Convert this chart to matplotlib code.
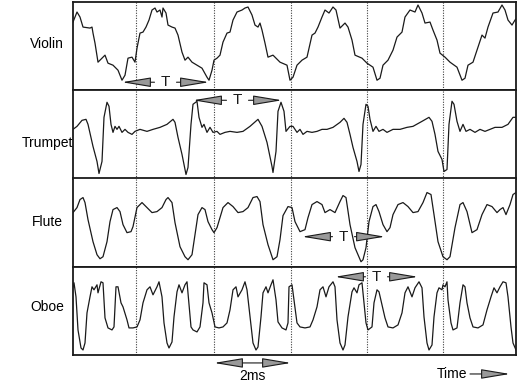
import numpy as np
import matplotlib
matplotlib.use("Agg")
import matplotlib.pyplot as plt

plt.rcParams["font.family"] = ["Liberation Sans", "DejaVu Sans"]

# traces: (sample index, amplitude), sampled at 38.5 samples per ms
SAMPLES_PER_MS = 38.5
N_SAMPLES = 443
AMP_MAX = 88

violin = [(0, 68), (4, 78), (7, 73), (10, 63), (17, 62), (19, 63), (20, 57), (22, 47), (25, 28),
          (29, 32), (32, 35), (35, 27), (40, 25), (45, 20), (49, 10), (52, 15), (55, 32), (59, 33),
          (62, 28), (64, 42), (67, 57), (70, 58), (73, 63), (76, 70), (79, 80), (82, 82), (84, 78),
          (87, 80), (89, 73), (90, 82), (93, 77), (95, 65), (99, 63), (102, 62), (105, 55), (109, 38),
          (112, 30), (115, 33), (119, 28), (124, 25), (129, 22), (134, 13), (136, 10), (139, 20),
          (141, 30), (144, 32), (147, 35), (150, 48), (154, 57), (157, 58), (160, 70), (164, 78),
          (169, 80), (172, 82), (175, 83), (179, 75), (182, 65), (185, 63), (187, 67), (189, 60),
          (192, 47), (195, 33), (200, 35), (207, 28), (214, 25), (217, 10), (220, 13), (224, 25),
          (229, 30), (234, 33), (239, 55), (242, 57), (245, 63), (249, 73), (252, 80), (256, 77),
          (260, 83), (263, 80), (267, 62), (272, 67), (275, 63), (279, 50), (282, 35), (289, 32),
          (294, 27), (300, 23), (304, 10), (307, 12), (310, 25), (315, 30), (320, 40), (324, 53),
          (329, 58), (332, 73), (337, 80), (342, 78), (345, 85), (349, 77), (352, 67), (357, 68),
          (360, 60), (364, 50), (367, 37), (372, 33), (377, 28), (384, 23), (389, 10), (392, 12),
          (395, 25), (400, 28), (405, 43), (409, 55), (412, 52), (415, 63), (420, 77), (425, 78),
          (429, 85), (432, 80), (435, 70), (439, 65), (442, 70), (443, 71)]

trumpet = [(0, 49), (4, 52), (9, 58), (13, 59), (15, 54), (20, 32), (24, 17), (26, 5), (29, 17),
           (31, 61), (34, 76), (36, 72), (38, 54), (40, 46), (42, 52), (44, 49), (46, 52), (49, 46),
           (52, 49), (55, 46), (59, 44), (62, 47), (67, 49), (74, 47), (80, 49), (87, 51), (94, 54),
           (100, 59), (102, 56), (105, 41), (109, 24), (113, 4), (115, 11), (118, 54), (120, 74),
           (124, 77), (126, 61), (129, 51), (131, 54), (134, 46), (137, 51), (140, 46), (144, 47),
           (147, 44), (152, 46), (157, 47), (164, 46), (170, 47), (177, 52), (185, 59), (189, 52),
           (194, 36), (199, 12), (200, 6), (203, 27), (205, 67), (208, 76), (211, 67), (213, 47),
           (217, 52), (220, 52), (224, 46), (227, 49), (230, 44), (234, 47), (239, 46), (244, 47),
           (249, 49), (254, 49), (260, 51), (267, 56), (271, 60), (274, 56), (277, 44), (280, 31),
           (284, 17), (286, 7), (288, 14), (290, 54), (293, 74), (295, 72), (297, 59), (300, 47),
           (303, 52), (306, 47), (310, 49), (314, 46), (320, 49), (327, 49), (334, 51), (340, 52),
           (349, 57), (356, 61), (359, 57), (362, 44), (365, 27), (369, 19), (371, 7), (374, 9),
           (376, 54), (379, 77), (381, 74), (384, 57), (387, 47), (390, 54), (393, 47), (397, 49),
           (402, 46), (407, 49), (412, 47), (417, 49), (422, 51), (429, 51), (435, 54), (440, 61),
           (443, 61)]

flute = [(0, 54), (4, 59), (7, 67), (10, 69), (12, 64), (15, 47), (20, 25), (24, 12), (27, 8),
         (30, 10), (34, 25), (37, 45), (40, 57), (44, 59), (47, 55), (50, 42), (54, 34), (58, 35),
         (60, 40), (64, 59), (69, 64), (74, 59), (79, 54), (84, 55), (89, 59), (93, 67), (95, 69),
         (99, 64), (102, 44), (107, 20), (112, 10), (115, 7), (119, 12), (122, 32), (125, 52),
         (129, 59), (132, 57), (135, 45), (139, 37), (141, 34), (144, 39), (147, 49), (150, 59),
         (155, 64), (160, 60), (165, 54), (170, 55), (175, 59), (180, 69), (184, 70), (187, 65),
         (190, 42), (195, 22), (200, 7), (204, 10), (207, 27), (210, 51), (215, 60), (219, 59),
         (222, 45), (227, 35), (232, 37), (235, 49), (239, 62), (244, 65), (249, 62), (252, 54),
         (257, 57), (262, 54), (267, 65), (270, 71), (273, 69), (277, 42), (282, 19), (288, 5),
         (290, 7), (293, 19), (296, 45), (300, 60), (303, 62), (306, 55), (310, 42), (314, 35),
         (317, 39), (320, 52), (325, 62), (330, 64), (335, 60), (340, 54), (345, 55), (350, 64),
         (354, 74), (358, 72), (361, 52), (365, 25), (370, 10), (374, 7), (377, 10), (382, 39),
         (387, 62), (390, 64), (394, 55), (399, 34), (404, 37), (409, 52), (414, 62), (419, 60),
         (424, 54), (427, 57), (430, 59), (433, 52), (437, 62), (440, 72), (443, 74)]

oboe = [(0, 68), (1, 72), (3, 58), (5, 25), (8, 7), (10, 5), (12, 12), (14, 42), (17, 58), (19, 68),
        (21, 65), (24, 70), (25, 62), (28, 73), (30, 72), (32, 37), (35, 27), (39, 25), (41, 28),
        (43, 68), (45, 68), (48, 52), (50, 48), (54, 35), (56, 27), (60, 27), (64, 28), (67, 35),
        (70, 52), (74, 65), (77, 68), (80, 60), (84, 68), (86, 73), (89, 58), (91, 32), (94, 12),
        (96, 7), (99, 13), (101, 38), (104, 63), (106, 70), (109, 62), (112, 70), (114, 73),
        (115, 62), (118, 28), (120, 25), (124, 23), (127, 28), (130, 52), (131, 72), (134, 70),
        (136, 52), (139, 42), (142, 28), (146, 27), (150, 28), (154, 32), (157, 45), (160, 65),
        (163, 68), (165, 58), (169, 65), (172, 73), (174, 65), (177, 38), (180, 12), (183, 5),
        (185, 8), (188, 38), (190, 62), (193, 68), (195, 62), (198, 70), (200, 75), (203, 55),
        (205, 33), (209, 27), (213, 25), (215, 32), (216, 68), (219, 70), (221, 55), (224, 32),
        (227, 28), (232, 27), (237, 28), (240, 35), (244, 48), (247, 65), (250, 68), (253, 58),
        (256, 68), (260, 73), (262, 68), (264, 35), (267, 12), (270, 5), (272, 10), (275, 38),
        (279, 63), (281, 67), (284, 62), (286, 70), (289, 72), (291, 52), (293, 32), (295, 25),
        (299, 28), (301, 52), (304, 65), (306, 63), (309, 50), (312, 37), (315, 28), (320, 27),
        (325, 30), (329, 42), (332, 62), (335, 68), (339, 58), (342, 67), (346, 73), (349, 67),
        (351, 38), (354, 12), (356, 5), (359, 10), (361, 38), (364, 62), (366, 67), (369, 65),
        (370, 70), (372, 68), (374, 73), (375, 55), (378, 32), (380, 25), (384, 27), (387, 52),
        (390, 70), (392, 68), (394, 52), (397, 37), (400, 28), (405, 27), (410, 30), (414, 45),
        (418, 58), (421, 67), (424, 62), (427, 68), (430, 73), (433, 72), (435, 58), (438, 28),
        (440, 12), (443, 5)]

instruments = ["Violin", "Trumpet", "Flute", "Oboe"]
traces = [violin, trumpet, flute, oboe]
label_y = [44, 143, 222, 307]          # label rows, figure pixels from top

period_marks = [63, 141, 218, 294, 370]  # dotted period lines, samples

# one period "T" per trace: start sample, end sample, amplitude
t_start = [49, 120, 229, 262]
t_end = [136, 209, 312, 345]
t_amp = [8, 78, 30, 78]

W, H = 519, 383
fig = plt.figure(figsize=(W / 100, H / 100), dpi=100)

left, right, top, bottom = 73, 516, 2, 355
ph = (bottom - top) / 4

HEAD = "head_length=1.8,head_width=0.3"


def arrow_props(kind):
    return dict(arrowstyle=kind + "," + HEAD, fc="0.6", ec="0.1",
                lw=0.8, shrinkA=0, shrinkB=0)


def period_arrow(ax, x0, x1, y, gap=11):
    mid = (x0 + x1) / 2
    ax.annotate("", xy=(x0, y), xytext=(mid - gap, y), arrowprops=arrow_props("-|>"))
    ax.annotate("", xy=(x1, y), xytext=(mid + gap, y), arrowprops=arrow_props("-|>"))
    return mid


axes = []
for i, (name, tr) in enumerate(zip(instruments, traces)):
    y0 = H - (top + (i + 1) * ph)
    ax = fig.add_axes([left / W, y0 / H, (right - left) / W, ph / H])
    n, amp = np.array(tr).T
    ax.plot(n, amp, color="0.1", lw=0.9, zorder=3)
    for m in period_marks:
        ax.axvline(m, color="0.25", lw=0.8, ls=(0, (1, 1.3)), zorder=1)
    mid = period_arrow(ax, t_start[i], t_end[i], t_amp[i])
    ax.text(mid, t_amp[i], "T", ha="center", va="center", fontsize=11, color="0.1")
    ax.set_xlim(0, N_SAMPLES)
    ax.set_ylim(0, AMP_MAX)
    ax.set_xticks([])
    ax.set_yticks([])
    for s in ax.spines.values():
        s.set_linewidth(1.3)
        s.set_color("0.1")
    fig.text(47 / W, 1 - label_y[i] / H, name, ha="center", va="center", fontsize=10)
    axes.append(ax)

# scale bar and time axis under the last panel
ax = axes[-1]
tr = ax.get_xaxis_transform()
scale_ms = 2
x0 = period_marks[1]
x1 = x0 + scale_ms * SAMPLES_PER_MS
ax.annotate("", xy=(x1, -0.09), xytext=(x0, -0.09), xycoords=tr, textcoords=tr,
            arrowprops=arrow_props("<|-|>"), annotation_clip=False)
ax.text((x0 + x1) / 2, -0.235, "%dms" % scale_ms, transform=tr, ha="center", va="center",
        fontsize=10)
ax.text(394, -0.215, "Time", transform=tr, ha="right", va="center", fontsize=10)
ax.annotate("", xy=(437, -0.215), xytext=(397, -0.215), xycoords=tr, textcoords=tr,
            arrowprops=arrow_props("-|>"), annotation_clip=False)

fig.savefig("out.png", dpi=100)
